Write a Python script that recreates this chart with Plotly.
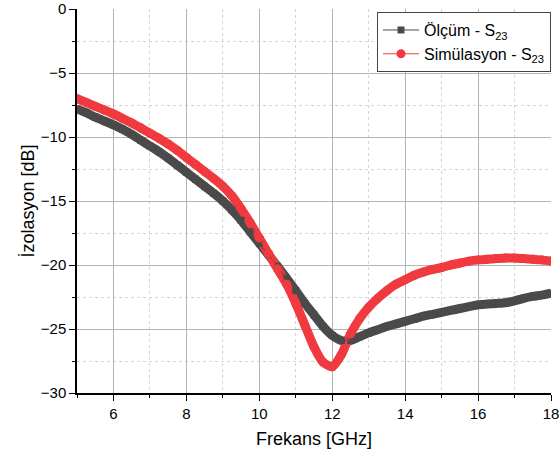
import plotly.graph_objects as go

# Frequency grid (GHz)
freq = [5.00, 5.25, 5.50, 5.75, 6.00, 6.25, 6.50, 6.75, 7.00, 7.25, 7.50, 7.75,
        8.00, 8.25, 8.50, 8.75, 9.00, 9.25, 9.50, 9.75, 10.00, 10.25, 10.50, 10.75,
        11.00, 11.25, 11.50, 11.75, 12.00, 12.25, 12.50, 12.75, 13.00, 13.25, 13.50,
        13.75, 14.00, 14.25, 14.50, 14.75, 15.00, 15.25, 15.50, 15.75, 16.00, 16.25,
        16.50, 16.75, 17.00, 17.25, 17.50, 17.75, 18.00]

# Measured isolation S23 (dB)
meas_s23 = [-7.8, -8.1, -8.45, -8.75, -9.05, -9.4, -9.8, -10.25, -10.7, -11.15, -11.65, -12.2,
            -12.75, -13.3, -13.85, -14.4, -15.0, -15.7, -16.5, -17.4, -18.3, -19.2, -20.1, -21.05,
            -22.0, -23.0, -23.9, -24.8, -25.5, -25.9, -25.9, -25.6, -25.3, -25.05, -24.8,
            -24.6, -24.4, -24.2, -24.0, -23.85, -23.7, -23.55, -23.4, -23.25, -23.1, -23.05,
            -23.0, -22.95, -22.8, -22.6, -22.45, -22.35, -22.2]

# Simulated isolation S23 (dB)
sim_s23 = [-7.0, -7.3, -7.6, -7.9, -8.2, -8.55, -8.9, -9.3, -9.7, -10.1, -10.55, -11.05,
           -11.6, -12.15, -12.7, -13.25, -13.85, -14.6, -15.6, -16.7, -17.9, -19.1, -20.3, -21.5,
           -23.0, -24.7, -26.4, -27.6, -27.95, -27.0, -25.4, -24.2, -23.3, -22.6, -22.0,
           -21.5, -21.15, -20.8, -20.55, -20.35, -20.2, -20.0, -19.85, -19.7, -19.6, -19.55,
           -19.5, -19.45, -19.45, -19.5, -19.55, -19.6, -19.7]

x_ticks = [6, 8, 10, 12, 14, 16, 18]
y_ticks = [0, -5, -10, -15, -20, -25, -30]

DARK = "#4a4a4a"
RED = "#f03a3f"
FONT = "Liberation Sans, Arial, sans-serif"

fig = go.Figure()

# Thick bands underneath, giving the dense-marker look
fig.add_trace(go.Scatter(x=freq, y=meas_s23, mode="lines", showlegend=False,
                         hoverinfo="skip", line=dict(color=DARK, width=9, shape="spline", smoothing=0.6)))
fig.add_trace(go.Scatter(x=freq, y=sim_s23, mode="lines", showlegend=False,
                         hoverinfo="skip", line=dict(color=RED, width=9, shape="spline", smoothing=0.6)))

# Marker series (also used for the legend entries)
fig.add_trace(go.Scatter(x=freq, y=meas_s23, mode="lines+markers",
                         name="Ölçüm - S<sub>23</sub>",
                         line=dict(color=DARK, width=1),
                         marker=dict(symbol="square", size=7, color=DARK)))
fig.add_trace(go.Scatter(x=freq, y=sim_s23, mode="lines+markers",
                         name="Simülasyon - S<sub>23</sub>",
                         line=dict(color=RED, width=1),
                         marker=dict(symbol="circle", size=9, color=RED)))

axis_common = dict(
    showline=True, linecolor="black", linewidth=1.5,
    ticks="outside", ticklen=6, tickwidth=1.2, tickcolor="black",
    showgrid=True, gridcolor="#b4b4b4", gridwidth=1,
    zeroline=False, mirror=False, automargin=False,
    ticklabeloverflow="allow",
    tickfont=dict(family=FONT, size=15, color="black"),
)

fig.update_xaxes(
    range=[5, 18], tickvals=x_ticks,
    title=dict(text="Frekans [GHz]", font=dict(family=FONT, size=18, color="black"), standoff=12),
    minor=dict(dtick=1, tick0=5, ticks="outside", ticklen=3, tickcolor="black",
               showgrid=True, gridcolor="#d4d4d4", griddash="dot", gridwidth=1),
    **axis_common,
)
fig.update_yaxes(
    range=[-30, 0], tickvals=y_ticks,
    title=dict(text="İzolasyon [dB]", font=dict(family=FONT, size=18, color="black"), standoff=1),
    minor=dict(dtick=2.5, tick0=0, ticks="outside", ticklen=3, tickcolor="black",
               showgrid=True, gridcolor="#d4d4d4", griddash="dot", gridwidth=1),
    **axis_common,
)

fig.update_layout(
    width=559, height=461,
    margin=dict(l=77, r=8, t=9, b=68),
    paper_bgcolor="white", plot_bgcolor="white",
    font=dict(family=FONT, size=15, color="black"),
    legend=dict(x=1.0, y=0.992, xanchor="right", yanchor="top",
                bgcolor="white", bordercolor="#444444", borderwidth=1,
                font=dict(family=FONT, size=16, color="black"),
                tracegroupgap=0, itemwidth=36),
)

fig.write_html("out.html")
